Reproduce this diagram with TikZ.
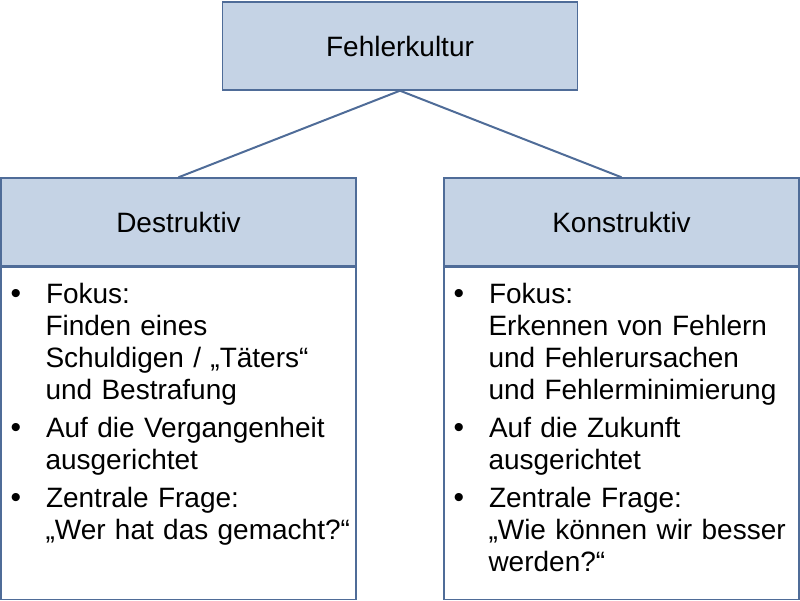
\documentclass[tikz,border=0pt]{standalone}
\usepackage{fontspec}
\setmainfont{Liberation Sans}
\usepackage{enumitem}
\definecolor{headfill}{RGB}{197,211,229}
\definecolor{frameblue}{RGB}{79,108,152}

\begin{document}
\begin{tikzpicture}[x = 1pt, y = -1pt, font = \fontsize{28}{32}\selectfont,
        head/.style = {draw = frameblue, fill = headfill, line width = 1.4pt,
            minimum width = 355pt, minimum height = 88pt, inner sep = 0pt},
        body/.style = {draw = frameblue, line width = 1.4pt,
            minimum width = 355pt, minimum height = 332pt, inner sep = 0pt},
        list/.style = {anchor = north west, text width = 345pt, align = left, inner sep = 0pt},
        link/.style = {draw = frameblue, line width = 2pt}]
        \useasboundingbox (0, 0) rectangle (800, 601);

        \node[head] (root) at (400, 46) {Fehlerkultur};
        \node[head] (dest) at (178.5, 222) {Destruktiv};
        \node[head] (kons) at (621.5, 222) {Konstruktiv};

        \node[body, anchor = north] (destbody) at (dest.south) {};
        \node[body, anchor = north] (konsbody) at (kons.south) {};

        \draw[link] (root.south) -- (dest.north);
        \draw[link] (root.south) -- (kons.north);

        \node[list] (destlist) at ([xshift = 10pt, yshift = -5pt] destbody.north west) {
            \begin{itemize}[leftmargin = 35pt, labelwidth = 10pt, labelsep = 25pt, align = left,
                label = {\fontsize{30}{30}\selectfont\textbullet},
                topsep = 0pt, itemsep = 6pt, parsep = 0pt, partopsep = 0pt]
                \item Fokus:\\ Finden eines\\ Schuldigen / „Täters“\\ und Bestrafung
                \item Auf die Vergangenheit\\ ausgerichtet
                \item Zentrale Frage:\\ „Wer hat das gemacht?“
            \end{itemize}};
        \node[list] (konslist) at ([xshift = 10pt, yshift = -5pt] konsbody.north west) {
            \begin{itemize}[leftmargin = 35pt, labelwidth = 10pt, labelsep = 25pt, align = left,
                label = {\fontsize{30}{30}\selectfont\textbullet},
                topsep = 0pt, itemsep = 6pt, parsep = 0pt, partopsep = 0pt]
                \item Fokus:\\ Erkennen von Fehlern\\ und Fehlerursachen\\ und Fehlerminimierung
                \item Auf die Zukunft\\ ausgerichtet
                \item Zentrale Frage:\\ „Wie können wir besser\\ werden?“
            \end{itemize}};
    \end{tikzpicture}
\end{document}
